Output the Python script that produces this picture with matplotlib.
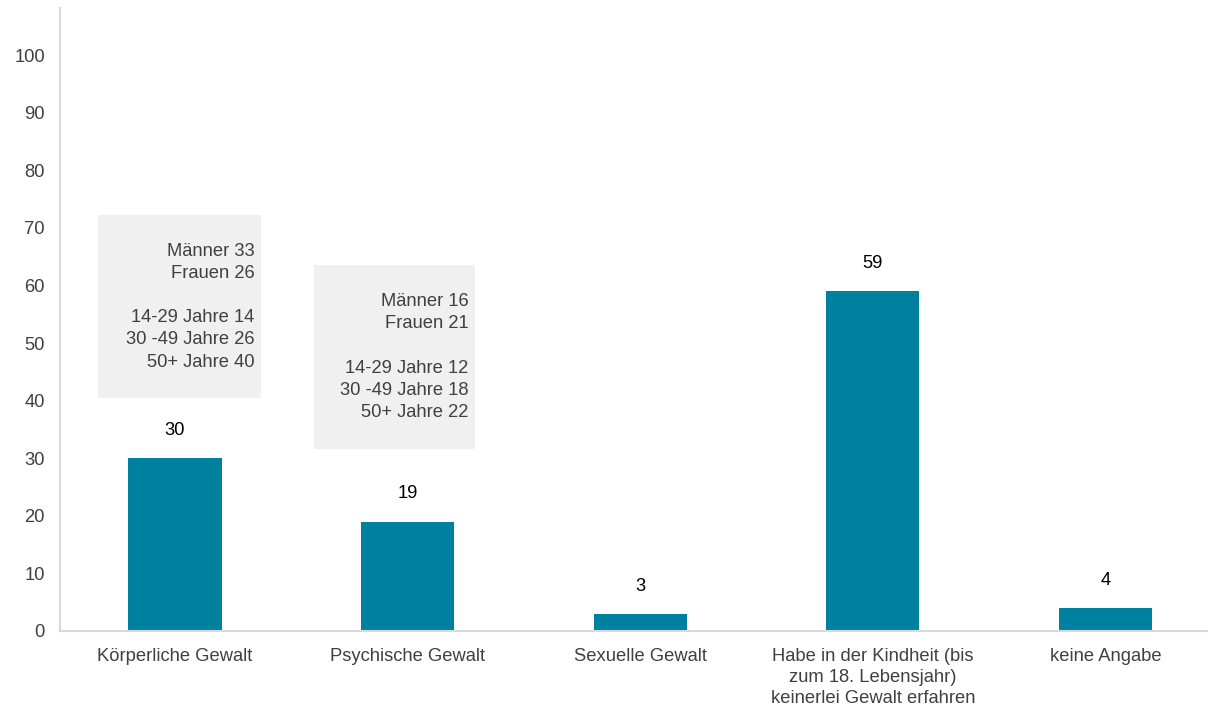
import matplotlib.pyplot as plt
from matplotlib.patches import Rectangle

plt.rcParams['font.family'] = ['Liberation Sans', 'DejaVu Sans']

categories = ['Körperliche Gewalt', 'Psychische Gewalt', 'Sexuelle Gewalt',
              'Habe in der Kindheit (bis\nzum 18. Lebensjahr)\nkeinerlei Gewalt erfahren',
              'keine Angabe']
values = [30, 19, 3, 59, 4]

box_texts = [
    'Männer 33\nFrauen 26\n\n14-29 Jahre 14\n30 -49 Jahre 26\n50+ Jahre 40',
    'Männer 16\nFrauen 21\n\n14-29 Jahre 12\n30 -49 Jahre 18\n50+ Jahre 22',
]

bar_color = '#00809F'
grey = '#D9D9D9'
fs = 13.2

fig = plt.figure(figsize=(12.08, 7.05), dpi=100)
ax = fig.add_axes([0.0497, 0.105, 0.9503, 0.8837])

x = range(len(categories))
ax.bar(x, values, width=0.4, color=bar_color, zorder=2)

for i, v in zip(x, values):
    ax.text(i, v + 4.8, str(v), ha='center', va='center', fontsize=fs, color='black')

# gray annotation boxes (category index, offset from centre, y, width, height)
boxes = [(0, -0.331, 40.45, 0.70, 31.8), (1, -0.404, 31.6, 0.692, 31.9)]
for (ci, bx, by, bw, bh), t in zip(boxes, box_texts):
    ax.add_patch(Rectangle((ci + bx, by), bw, bh, facecolor='#F0F0F0',
                           edgecolor='none', zorder=1))
    ax.text(ci + bx + bw - 0.027, by + bh / 2, t, ha='right', va='center',
            fontsize=fs, color='#404040', linespacing=1.4, zorder=3)

ax.set_xlim(-0.494, 4.44)
ax.set_ylim(0, 108.2)
ax.set_yticks(range(0, 101, 10))
ax.set_xticks(list(x))
ax.set_xticklabels(categories, fontsize=fs, color='#404040', linespacing=1.33)
ax.tick_params(axis='y', labelsize=fs, labelcolor='#404040', length=0, pad=11)
ax.tick_params(axis='x', length=0, pad=12)

for s in ['top', 'right']:
    ax.spines[s].set_visible(False)
for s in ['left', 'bottom']:
    ax.spines[s].set_color(grey)
    ax.spines[s].set_linewidth(1.5)

fig.savefig('out.png', dpi=100)
